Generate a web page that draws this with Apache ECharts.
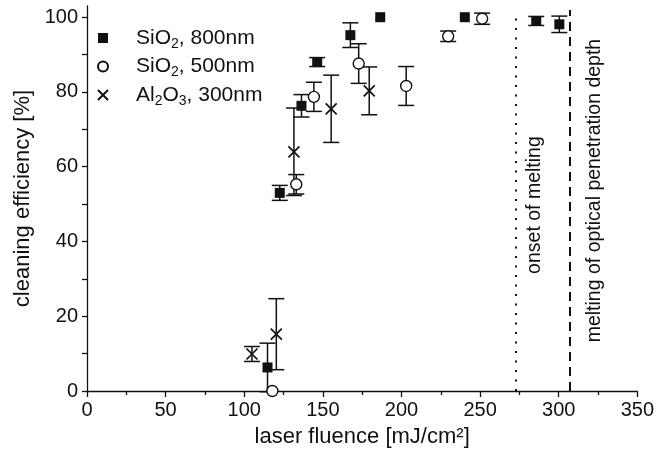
<!DOCTYPE html>
<html>
<head>
<meta charset="utf-8">
<script src="https://cdn.jsdelivr.net/npm/echarts@6/dist/echarts.min.js"></script>
<style>html,body{margin:0;padding:0;background:#fff}#c{width:657px;height:463px}</style>
</head>
<body>
<div id="c"></div>
<script>
// [fluence, efficiency, error]
var sio2_800 = [[114.8, 6.3, 6.5], [122.6, 53.0, 2.0], [136.4, 76.3, 3.0], [146.4, 88.0, 1.2], [167.5, 95.2, 3.3], [186.5, 100.0, 0], [240.3, 100.0, 0], [285.7, 99.0, 1.2], [300.4, 98.1, 2.2]];
var sio2_500 = [[117.9, 0.0, 0], [133.1, 55.3, 2.6], [144.3, 78.7, 3.9], [172.8, 87.6, 5.3], [203.0, 81.6, 5.2], [229.7, 94.9, 1.4], [251.3, 99.6, 1.5]];
var al2o3_300 = [[104.9, 9.9, 2.0], [120.4, 15.2, 9.5], [131.6, 64.0, 11.7], [155.3, 75.5, 9.0], [179.5, 80.3, 6.4]];
var seriesNames = ['SiO2, 800nm', 'SiO2, 500nm', 'Al2O3, 300nm'];
var legendLabels = ['SiO{s|2}, 800nm', 'SiO{s|2}, 500nm', 'Al{s|2}O{s|3}, 300nm'];
var xTicks = [0, 50, 100, 150, 200, 250, 300, 350];
var yLabelValues = [0, 20, 40, 60, 80, 100];
var yTickValues = [0, 10, 20, 30, 40, 50, 60, 70, 80, 90, 100];
var onsetMelting = 273;
var opticalDepth = 307;

var FONT = 'Liberation Sans, Arial, Helvetica, sans-serif';
var INK = '#111';
var SQUARE = 'path://M0,0H10V10H0Z';
var CROSS = 'path://M0,0L10,10M10,0L0,10';

function errRender(params, api) {
  var x = api.value(0), y = api.value(1), e = api.value(2);
  var t = api.coord([x, y + e]);
  var b = api.coord([x, y - e]);
  var hw = 8;
  var st = {stroke: INK, lineWidth: 1.5};
  return {type: 'group', children: [
    {type: 'line', shape: {x1: t[0], y1: t[1], x2: b[0], y2: b[1]}, style: st},
    {type: 'line', shape: {x1: t[0] - hw, y1: t[1], x2: t[0] + hw, y2: t[1]}, style: st},
    {type: 'line', shape: {x1: b[0] - hw, y1: b[1], x2: b[0] + hw, y2: b[1]}, style: st}
  ]};
}
function withErr(arr) { return arr.filter(function (d) { return d[2] > 0; }); }
function errSeries(arr) {
  return {type: 'custom', name: 'err', renderItem: errRender, data: withErr(arr),
    encode: {x: 0, y: 1}, z: 1, silent: true, clip: false};
}

var chart = echarts.init(document.getElementById('c'), null, {renderer: 'canvas'});
chart.setOption({
  animation: false,
  backgroundColor: '#fff',
  textStyle: {fontFamily: FONT, color: INK},
  grid: {left: 87, right: 17, top: 6, bottom: 72},
  legend: {
    orient: 'vertical', left: 97, top: 25, padding: 0,
    itemWidth: 10, itemHeight: 10, itemGap: 2.5,
    selectedMode: false,
    data: [
      {name: seriesNames[0], icon: SQUARE},
      {name: seriesNames[1], icon: 'circle'},
      {name: seriesNames[2], icon: CROSS}
    ],
    formatter: function (n) { return legendLabels[seriesNames.indexOf(n)]; },
    textStyle: {fontFamily: FONT, fontSize: 21, color: INK, lineHeight: 26, padding: [0, 0, 0, 23],
      rich: {s: {fontFamily: FONT, fontSize: 14, lineHeight: 14, verticalAlign: 'bottom', color: INK}}}
  },
  xAxis: {
    type: 'value', min: 0, max: 350, interval: 50,
    name: 'laser fluence [mJ/cm²]', nameLocation: 'middle', nameGap: 35,
    nameTextStyle: {fontFamily: FONT, fontSize: 22, color: INK},
    axisLine: {lineStyle: {color: INK, width: 1.3}},
    axisTick: {show: true, length: 6, lineStyle: {color: INK, width: 1.3}},
    minorTick: {show: true, splitNumber: 2, length: 4, lineStyle: {color: INK, width: 1.3}},
    axisLabel: {fontFamily: FONT, fontSize: 20, color: INK, margin: 9,
      customValues: xTicks},
    splitLine: {show: false}
  },
  yAxis: {
    type: 'value', min: 0, max: 103, interval: 20,
    name: 'cleaning efficiency [%]', nameLocation: 'middle', nameGap: 45,
    nameTextStyle: {fontFamily: FONT, fontSize: 22, color: INK},
    axisLine: {lineStyle: {color: INK, width: 1.3}},
    axisTick: {show: true, length: 5, lineStyle: {color: INK, width: 1.3}, customValues: yTickValues},
    axisLabel: {fontFamily: FONT, fontSize: 20, color: INK, margin: 9, customValues: yLabelValues},
    splitLine: {show: false}
  },
  series: [
    errSeries(sio2_800), errSeries(sio2_500), errSeries(al2o3_300),
    {
      type: 'scatter', name: seriesNames[0], data: sio2_800, symbol: 'rect', symbolSize: 10, z: 3,
      itemStyle: {color: INK, borderColor: INK, borderWidth: 0, opacity: 1},
      markLine: {
        silent: true, symbol: ['none', 'none'], animation: false,
        data: [
          [{coord: [onsetMelting, 0], lineStyle: {type: [2, 7.5], width: 2, color: INK},
            label: {show: true, formatter: 'onset of melting', position: 'insideMiddleBottom', distance: 8,
              fontFamily: FONT, fontSize: 19.5, color: INK, padding: [0, 6, 0, 0]}},
           {coord: [onsetMelting, 101.1]}],
          [{coord: [opticalDepth, 0], lineStyle: {type: [9, 6], width: 2, color: INK},
            label: {show: true, formatter: 'melting of optical penetration depth', position: 'insideMiddleBottom', distance: 15,
              fontFamily: FONT, fontSize: 19.5, color: INK, padding: [0, 0, 0, 20]}},
           {coord: [opticalDepth, 101.9]}]
        ]
      }
    },
    {
      type: 'scatter', name: seriesNames[1], data: sio2_500, symbol: 'circle', symbolSize: 11, z: 3,
      itemStyle: {color: '#fff', borderColor: INK, borderWidth: 1.4, opacity: 1}
    },
    {
      type: 'scatter', name: seriesNames[2], data: al2o3_300, symbol: CROSS, symbolSize: 11, z: 3,
      itemStyle: {color: 'rgba(0,0,0,0)', borderColor: INK, borderWidth: 1.7, opacity: 1}
    }
  ]
});
</script>
</body>
</html>
